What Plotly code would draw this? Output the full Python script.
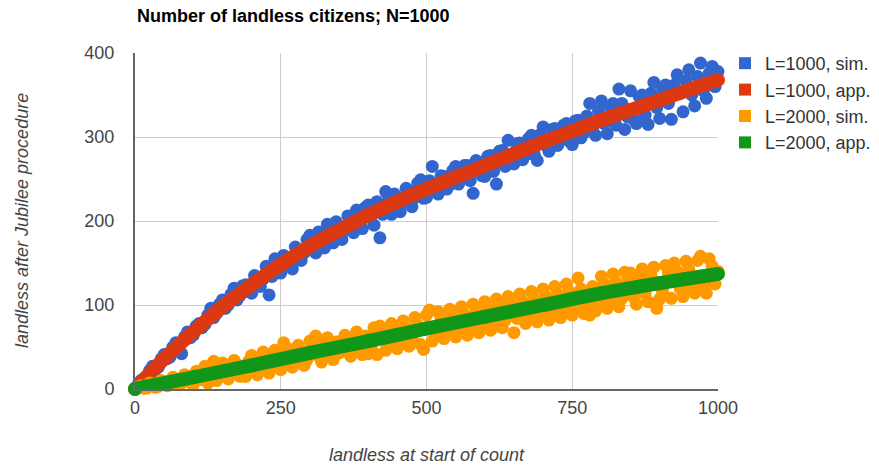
import plotly.graph_objects as go

# ---------------- data ----------------
sim_x = list(range(0, 1001, 5))

sim_L1000 = [
    1, 5, 10, 9, 12, 22, 27, 23, 26, 36, 41, 36, 38, 50, 55, 48, 42, 62, 68, 61,
    64, 75, 78, 73, 77, 88, 96, 85, 90, 101, 106, 96, 100, 113, 120, 106, 111, 123, 124, 116,
    114, 135, 133, 122, 131, 146, 112, 134, 155, 146, 138, 159, 156, 146, 143, 169, 165, 153, 162, 178,
    183, 174, 162, 187, 183, 168, 196, 183, 174, 199, 193, 178, 189, 206, 200, 186, 213, 200, 191, 216,
    219, 205, 195, 223, 180, 208, 235, 225, 208, 232, 228, 211, 222, 239, 235, 217, 228, 245, 249, 227,
    228, 248, 265, 238, 232, 254, 253, 238, 243, 260, 265, 244, 250, 266, 266, 248, 233, 272, 270, 254,
    253, 277, 278, 259, 244, 283, 284, 265, 296, 272, 268, 292, 293, 273, 279, 298, 302, 279, 272, 303,
    312, 290, 283, 309, 310, 290, 296, 314, 316, 295, 291, 319, 320, 299, 305, 325, 340, 310, 302, 331,
    343, 316, 304, 336, 340, 314, 357, 340, 309, 324, 355, 321, 316, 348, 350, 326, 315, 352, 365, 335,
    322, 357, 362, 340, 321, 362, 374, 352, 330, 367, 380, 350, 337, 372, 388, 355, 346, 376, 384, 360,
    378,
]

sim_L2000 = [
    0, 2, 4, 1, 1, 7, 6, 2, 3, 10, 9, 4, 5, 14, 12, 5, 7, 17, 14, 8,
    5, 21, 17, 11, 27, 7, 25, 33, 10, 16, 31, 27, 12, 19, 34, 29, 15, 22, 15, 33,
    40, 35, 17, 24, 44, 36, 19, 27, 46, 40, 23, 55, 49, 42, 26, 32, 52, 45, 28, 35,
    57, 51, 63, 39, 32, 53, 61, 41, 35, 56, 43, 58, 64, 45, 39, 61, 68, 48, 41, 63,
    42, 51, 73, 41, 75, 67, 46, 54, 78, 70, 48, 57, 81, 73, 51, 60, 85, 76, 53, 47,
    88, 94, 57, 65, 92, 84, 60, 68, 95, 87, 62, 71, 98, 89, 64, 73, 101, 93, 67, 76,
    104, 96, 70, 79, 107, 99, 73, 82, 110, 102, 67, 84, 113, 104, 78, 87, 116, 107, 80, 89,
    119, 110, 82, 92, 122, 113, 85, 95, 125, 116, 88, 98, 132, 119, 90, 100, 88, 122, 93, 103,
    134, 125, 96, 106, 137, 127, 98, 108, 139, 129, 138, 110, 101, 133, 143, 113, 104, 135, 145, 96,
    107, 116, 147, 138, 108, 150, 140, 120, 110, 152, 142, 121, 114, 153, 158, 124, 114, 155, 146, 125,
    140,
]

app_L1000_x = [0, 50, 100, 150, 200, 250, 300, 350, 400, 450, 500,
               550, 600, 650, 700, 750, 800, 850, 900, 950, 1000]
app_L1000_y = [0, 36, 68, 98, 124, 148, 170, 189, 207, 223, 238,
               252, 266, 280, 294, 307, 320, 332, 344, 356, 368]

app_L2000_x = [0, 100, 200, 300, 400, 500, 600, 700, 800, 900, 1000]
app_L2000_y = [0, 14, 28, 43, 57, 72, 86, 100, 114, 126, 137]

series_names = ["L=1000, sim.", "L=1000, app.", "L=2000, sim.", "L=2000, app."]
series_colors = ["#3366CC", "#DC3912", "#FF9900", "#109618"]

x_ticks = [0, 250, 500, 750, 1000]
y_ticks = [0, 100, 200, 300, 400]

title_text = "Number of landless citizens; N=1000"
x_title = "landless at start of count"
y_title = "landless after Jubilee procedure"

FONT = "Liberation Sans, Arial, sans-serif"

# ---------------- figure ----------------
fig = go.Figure()

fig.add_trace(go.Scatter(
    x=sim_x, y=sim_L1000, mode="markers", name=series_names[0],
    marker=dict(color=series_colors[0], size=13, line=dict(width=0)),
    cliponaxis=False, showlegend=False))
fig.add_trace(go.Scatter(
    x=app_L1000_x, y=app_L1000_y, mode="lines+markers", name=series_names[1],
    line=dict(color=series_colors[1], width=14, shape="spline"),
    marker=dict(color=series_colors[1], size=14, line=dict(width=0)),
    cliponaxis=False, showlegend=False))
fig.add_trace(go.Scatter(
    x=sim_x, y=sim_L2000, mode="markers", name=series_names[2],
    marker=dict(color=series_colors[2], size=13, line=dict(width=0)),
    cliponaxis=False, showlegend=False))
fig.add_trace(go.Scatter(
    x=app_L2000_x, y=app_L2000_y, mode="lines+markers", name=series_names[3],
    line=dict(color=series_colors[3], width=14, shape="spline"),
    marker=dict(color=series_colors[3], size=14, line=dict(width=0)),
    cliponaxis=False, showlegend=False))

# legend entries with square swatches
for name, col in zip(series_names, series_colors):
    fig.add_trace(go.Scatter(
        x=[None], y=[None], mode="markers", name=name,
        marker=dict(color=col, size=17, symbol="square", line=dict(width=0)),
        showlegend=True))

fig.update_layout(
    width=879, height=470,
    margin=dict(l=135, r=161, t=53, b=81, autoexpand=False),
    paper_bgcolor="white", plot_bgcolor="white",
    font=dict(family=FONT, size=18, color="#444444"),
    showlegend=True,
    legend=dict(
        x=1.0 + 7 / 583, xref="paper", xanchor="left",
        y=1.0 + 8 / 336, yanchor="top",
        font=dict(family=FONT, size=18, color="#333333"),
        bgcolor="rgba(0,0,0,0)", borderwidth=0,
        itemsizing="constant", tracegroupgap=0,
    ),
    xaxis=dict(
        range=[0, 1000], tickmode="array", tickvals=x_ticks,
        ticktext=[str(v) for v in x_ticks], automargin=False,
        showgrid=True, gridcolor="#CCCCCC", gridwidth=1,
        zeroline=False, showline=True, linecolor="#666666", linewidth=2,
        ticks="", ticklabelstandoff=1,
        tickfont=dict(family=FONT, size=18, color="#444444"),
    ),
    yaxis=dict(
        range=[0, 400], tickmode="array", tickvals=y_ticks,
        ticktext=[str(v) for v in y_ticks], automargin=False,
        showgrid=True, gridcolor="#CCCCCC", gridwidth=1,
        zeroline=False, showline=True, linecolor="#666666", linewidth=2,
        ticks="", ticklabelstandoff=15,
        tickfont=dict(family=FONT, size=18, color="#444444"),
    ),
    annotations=[
        dict(text="<b>" + title_text + "</b>", xref="paper", yref="paper",
             x=0, y=1, xanchor="left", yanchor="middle", yshift=37,
             showarrow=False, font=dict(family=FONT, size=18, color="#000000")),
        dict(text="<i>" + x_title + "</i>", xref="paper", yref="paper",
             x=0.5, y=0, xanchor="center", yanchor="middle", yshift=-66,
             showarrow=False, font=dict(family=FONT, size=18, color="#444444")),
        dict(text="<i>" + y_title + "</i>", xref="paper", yref="paper",
             x=0, y=0.5, xanchor="center", yanchor="middle", xshift=-113,
             textangle=-90, showarrow=False,
             font=dict(family=FONT, size=18, color="#444444")),
    ],
)

# remove the browser's default 8px body margin so the figure sits at (0, 0)
fig.write_html("out.html",
               config={"displayModeBar": False},
               post_script="document.body.style.margin='0px';")
